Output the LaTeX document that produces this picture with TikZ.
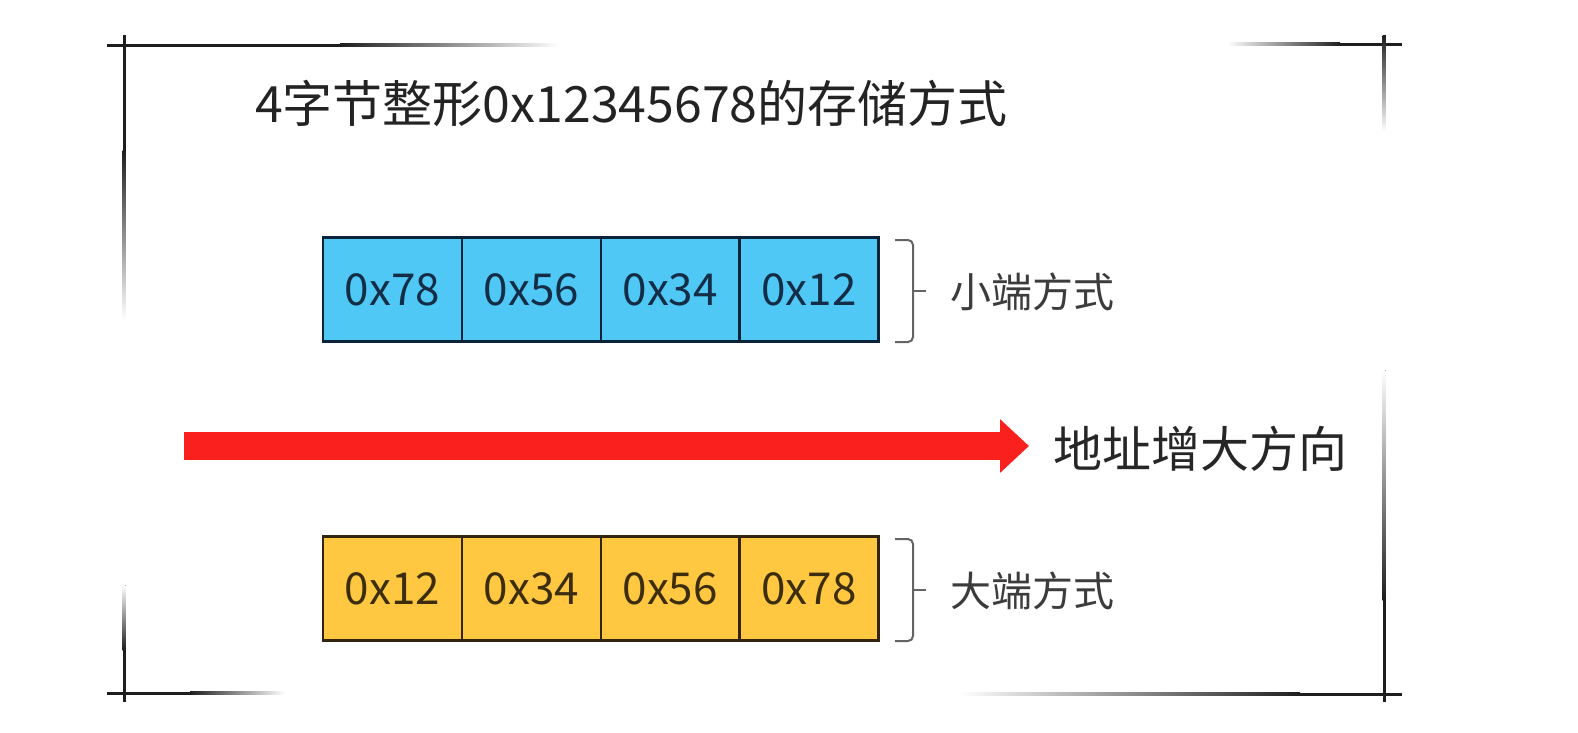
\documentclass[tikz,border=0pt]{standalone}
\usepackage{fontspec}
\setmainfont{Noto Sans CJK SC}
\usetikzlibrary{arrows.meta}
\definecolor{cellblue}{RGB}{80,200,245}
\definecolor{cellorange}{RGB}{255,200,64}
\definecolor{navyline}{RGB}{12,36,58}
\definecolor{navytext}{RGB}{20,45,70}
\definecolor{brownline}{RGB}{50,36,14}
\definecolor{browntext}{RGB}{60,45,15}
\definecolor{arrowred}{RGB}{250,32,30}
\definecolor{framec}{RGB}{30,30,30}
\definecolor{bracec}{RGB}{100,100,100}
\definecolor{labelc}{RGB}{60,60,60}
\definecolor{titlec}{RGB}{35,35,35}
\begin{document}
\begin{tikzpicture}[x=1pt,y=-1pt,
  cellbase/.style={minimum width=138.9pt, minimum height=104pt, inner sep=0pt,
    line width=2.5pt, font=\fontsize{44pt}{50pt}\selectfont},
  cellB/.style={cellbase, draw=navyline, fill=cellblue, text=navytext},
  cellO/.style={cellbase, draw=brownline, fill=cellorange, text=browntext},
  bracestyle/.style={draw=bracec, line width=2pt, rounded corners=5pt},
  sidelabel/.style={anchor=west, inner sep=0pt, text=labelc, font=\fontsize{41pt}{48pt}\selectfont},
  frameline/.style={framec}
]
\useasboundingbox (0,0) rectangle (1578,732);
\fill[white] (0,0) rectangle (1578,732);

% frame (sketchy fading corner lines)
\fill[frameline] (107,43.5) rectangle (340,46.5);
\fill[left color=framec, right color=white] (340,43.5) rectangle (560,46.5);
\fill[left color=white, right color=framec] (1227,42.5) rectangle (1340,45.5);
\fill[frameline] (1340,42.5) rectangle (1402,45.5);
\fill[frameline] (122.5,35) rectangle (125.5,150);
\fill[top color=framec, bottom color=white] (122.5,150) rectangle (125.5,320);
\fill[top color=white, bottom color=framec] (122.5,585) rectangle (125.5,650);
\fill[frameline] (122.5,650) rectangle (125.5,702);
\fill[frameline] (107,691.5) rectangle (190,694.5);
\fill[left color=framec, right color=white] (190,691.5) rectangle (285,694.5);
\fill[top color=framec, bottom color=white] (1382.5,35) rectangle (1385.5,132);
\fill[top color=white, bottom color=framec] (1382.5,370) rectangle (1385.5,600);
\fill[frameline] (1382.5,600) rectangle (1385.5,702);
\fill[left color=white, right color=framec] (960,692.5) rectangle (1300,695.5);
\fill[frameline] (1300,692.5) rectangle (1402,695.5);

% title
\node[anchor=west, inner sep=0pt, text=titlec, font=\fontsize{50pt}{58pt}\selectfont]
  (title) at (255,103) {4字节整形0x12345678的存储方式};

% little endian row
\node[cellB] (b1) at (392.4,289.5) {0x78};
\node[cellB] (b2) at (531.3,289.5) {0x56};
\node[cellB] (b3) at (670.2,289.5) {0x34};
\node[cellB] (b4) at (809.1,289.5) {0x12};
\draw[bracestyle] (895,240) -- (913,240) -- (913,342) -- (895,342);
\draw[draw=bracec, line width=2pt] (913,291) -- (926,291);
\node[sidelabel] (little) at (950,292) {小端方式};

% address arrow
\coordinate (arrS) at (184,446);
\coordinate (arrE) at (1029,446);
\draw[arrowred, line width=28pt, -{Triangle[length=29pt, width=52pt]}] (arrS) -- (arrE);
\node[anchor=west, inner sep=0pt, text=black!85, font=\fontsize{49pt}{56pt}\selectfont]
  (dir) at (1053,449) {地址增大方向};

% big endian row
\node[cellO] (o1) at (392.4,588.5) {0x12};
\node[cellO] (o2) at (531.3,588.5) {0x34};
\node[cellO] (o3) at (670.2,588.5) {0x56};
\node[cellO] (o4) at (809.1,588.5) {0x78};
\draw[bracestyle] (895,539) -- (913,539) -- (913,641) -- (895,641);
\draw[draw=bracec, line width=2pt] (913,590) -- (926,590);
\node[sidelabel] (big) at (950,591) {大端方式};
\end{tikzpicture}
\end{document}
